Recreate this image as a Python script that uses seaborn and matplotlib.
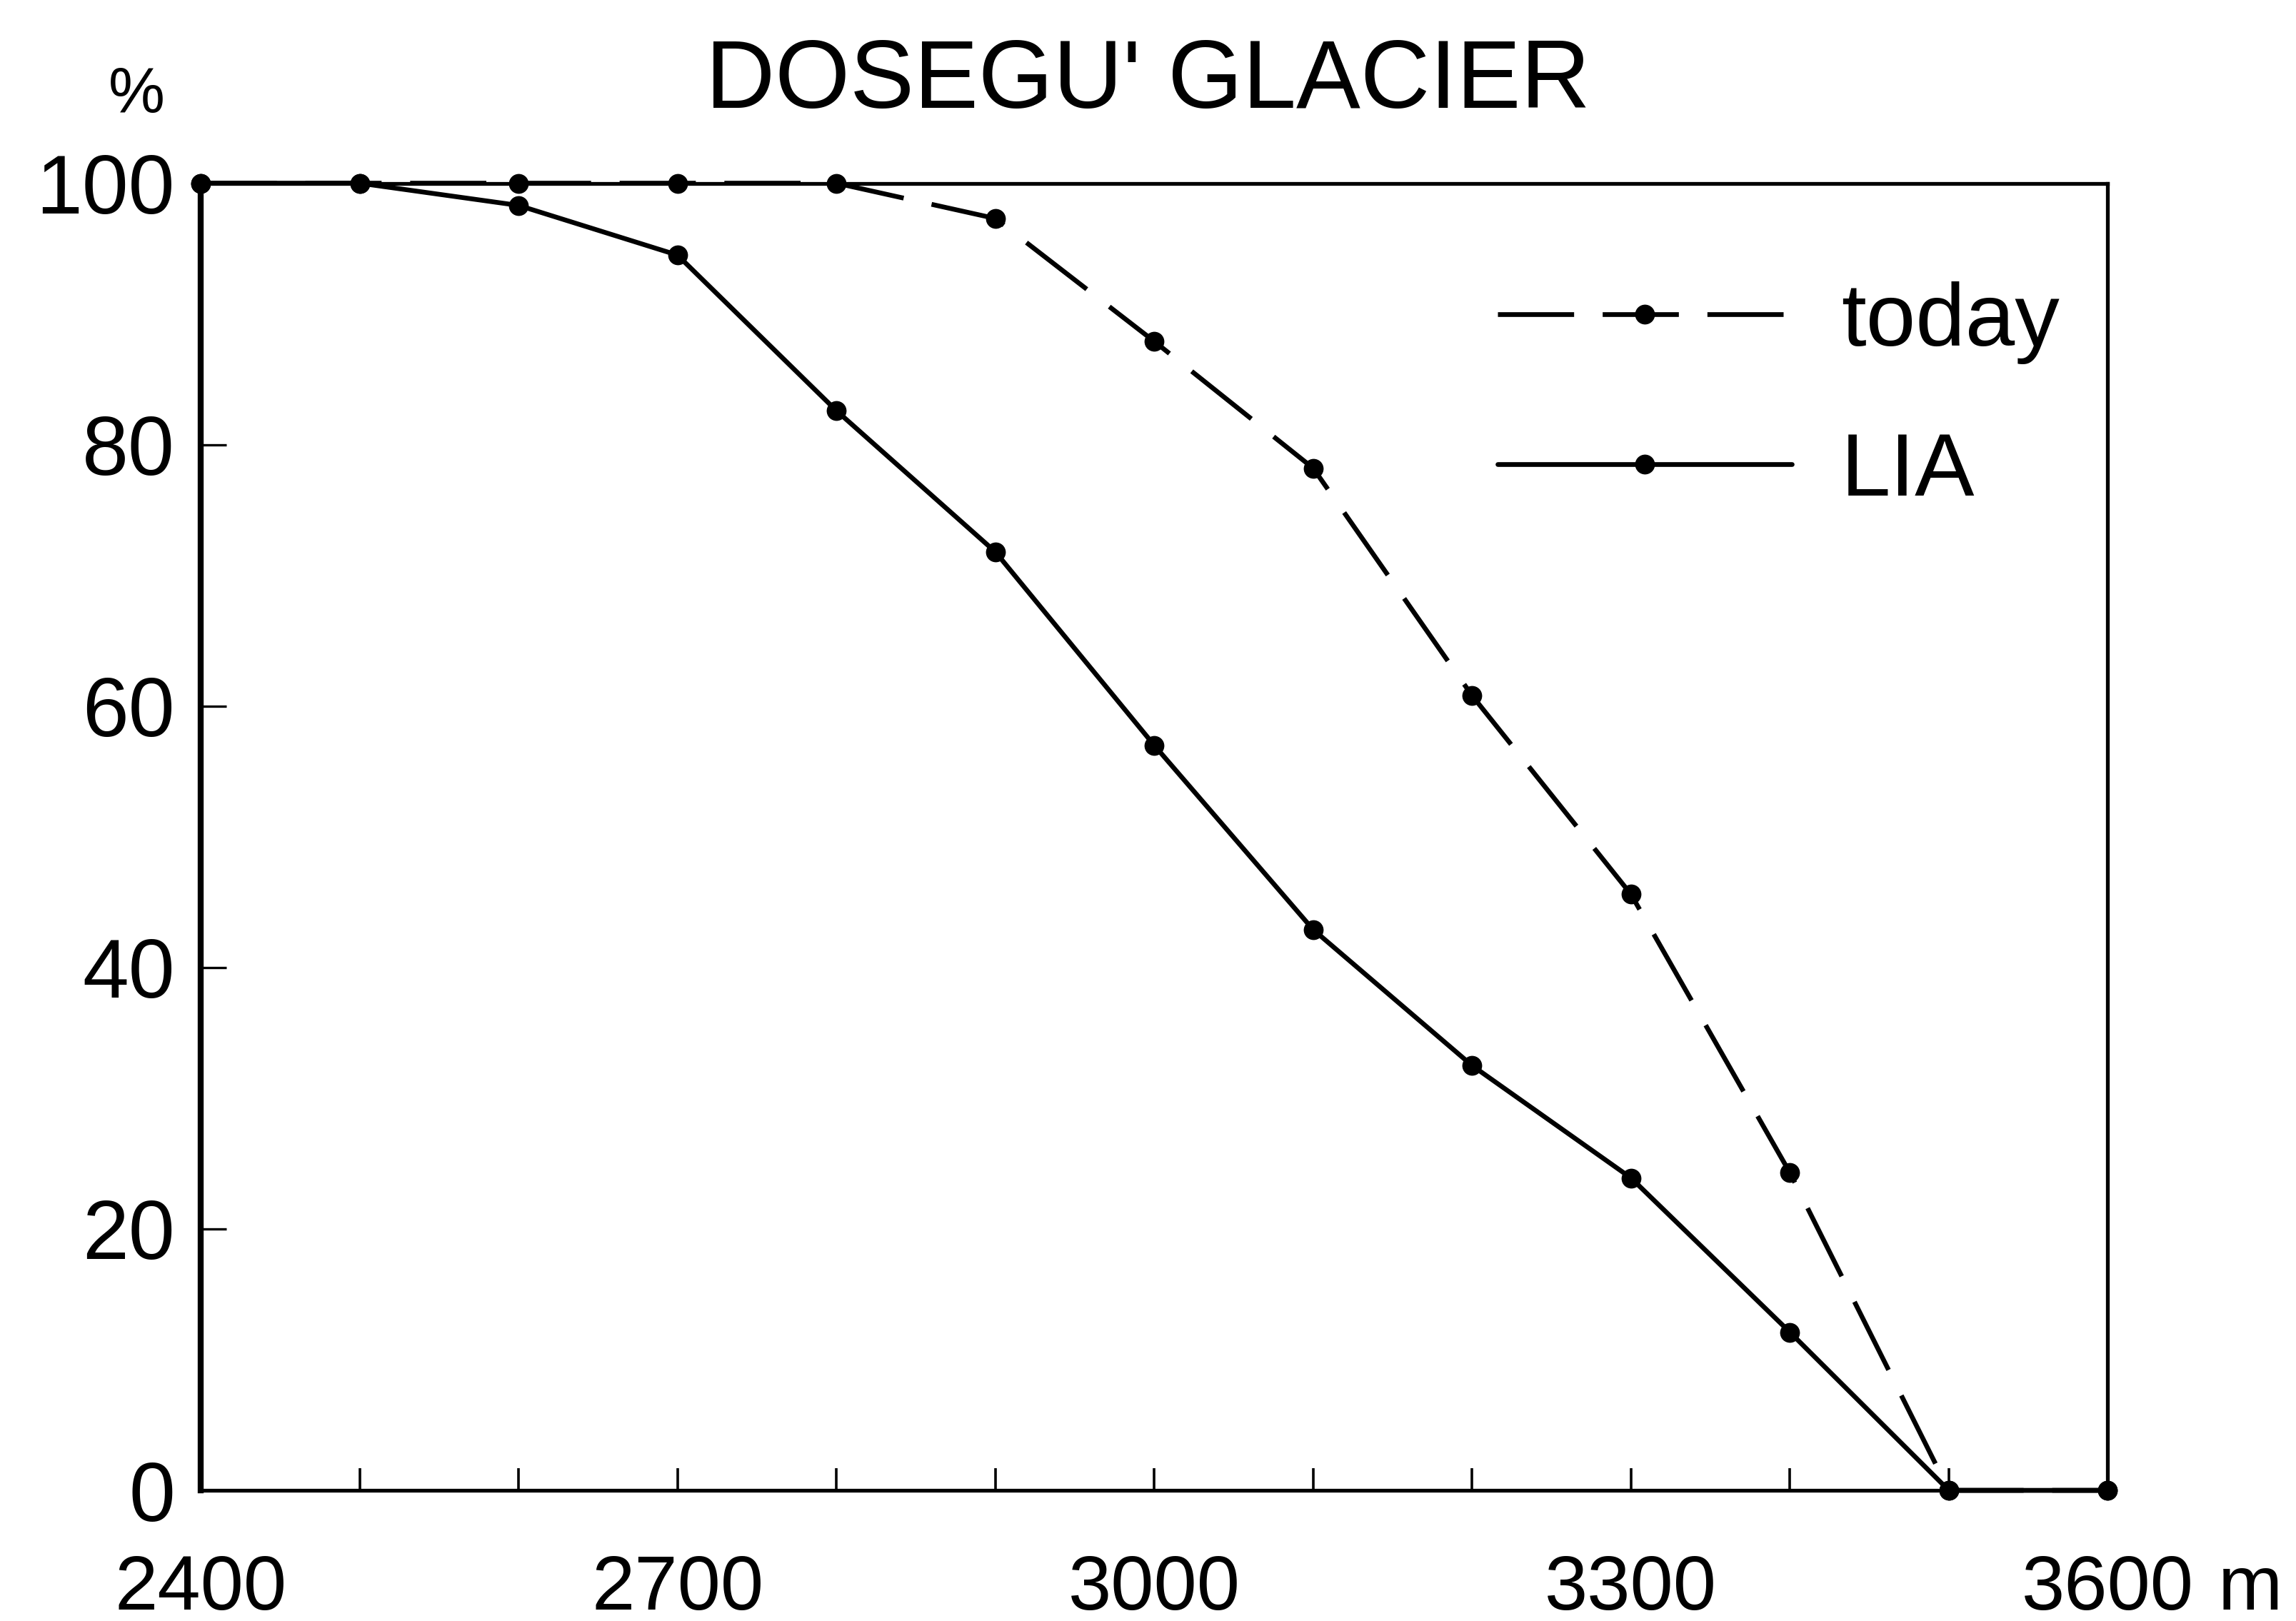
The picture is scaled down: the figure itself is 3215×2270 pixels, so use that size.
import seaborn as sns
import matplotlib.pyplot as plt
import pandas as pd
from matplotlib import ticker

sns.set_theme(style="ticks")
plt.rcParams["font.family"] = ["Liberation Sans", "DejaVu Sans"]
plt.rcParams["text.color"] = "black"

altitude = [2400, 2500, 2600, 2700, 2800, 2900, 3000, 3100, 3200, 3300, 3400, 3500, 3600]
today = [100, 100, 100, 100, 100, 97.3, 87.9, 78.2, 60.8, 45.6, 24.3, 0, 0]
lia = [100, 100, 98.3, 94.5, 82.6, 71.8, 57.0, 42.9, 32.5, 23.9, 12.1, 0, 0]
series_names = ["today", "LIA"]
x_labels = [2400, 2700, 3000, 3300, 3600]
y_labels = [0, 20, 40, 60, 80, 100]

df = pd.concat([
    pd.DataFrame({"altitude": altitude, "percent": today, "series": "today"}),
    pd.DataFrame({"altitude": altitude, "percent": lia, "series": "LIA"}),
])

fig = plt.figure(figsize=(32.15, 22.7), dpi=100)
ax = fig.add_axes([0.0874, 0.0806, 0.8306, 0.8064])

sns.lineplot(
    data=df, x="altitude", y="percent", hue="series", style="series",
    hue_order=series_names, style_order=series_names,
    palette={"today": "black", "LIA": "black"},
    dashes={"today": (16, 6), "LIA": ""},
    markers={"today": "o", "LIA": "o"},
    markersize=20, linewidth=4.8, markeredgewidth=0,
    estimator=None, sort=True, clip_on=False, ax=ax,
)

ax.set_xlim(2400, 3600)
ax.set_ylim(0, 100)
ax.xaxis.set_major_locator(ticker.MultipleLocator(100))
ax.xaxis.set_major_formatter(
    ticker.FuncFormatter(lambda v, p: f"{int(round(v))}" if int(round(v)) in x_labels else "")
)
ax.set_yticks(y_labels)
ax.tick_params(axis="x", direction="in", length=22, width=2.6, pad=64, labelsize=78,
               colors="black")
ax.tick_params(axis="y", direction="in", length=26, width=2.4, pad=26, labelsize=84,
               colors="black")

for side, lw in [("left", 6.0), ("bottom", 3.8), ("right", 3.8), ("top", 3.8)]:
    ax.spines[side].set_linewidth(lw)
    ax.spines[side].set_color("black")

ax.set_xlabel("")
ax.set_ylabel("")

handles, labels = ax.get_legend_handles_labels()
ax.legend(
    handles, labels, loc="upper left", bbox_to_anchor=(0.68, 0.925),
    frameon=False, fontsize=90, handlelength=3.3, handletextpad=0.55,
    labelspacing=0.75, borderpad=0, borderaxespad=0,
)

fig.text(0.5, 0.949, "DOSEGU' GLACIER", ha="center", va="center", fontsize=97)
fig.text(0.0594, 0.941, "%", ha="center", va="center", fontsize=64)
fig.text(0.966, 0.007, "m", ha="left", va="baseline", fontsize=78)

plt.savefig("out.png", dpi=100, facecolor="white")
